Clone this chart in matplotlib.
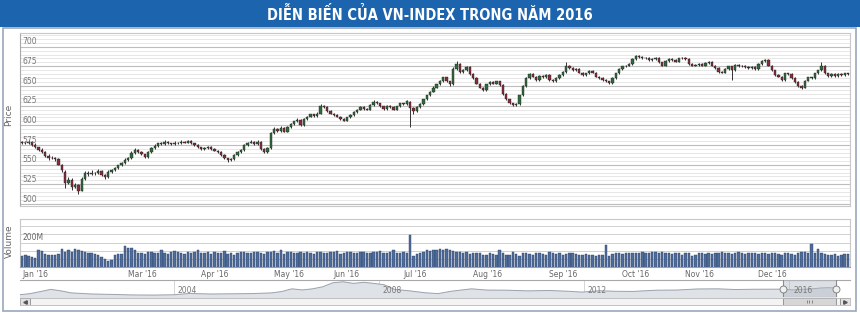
import numpy as np
import matplotlib.pyplot as plt
from matplotlib.patches import Rectangle
from matplotlib.ticker import MultipleLocator
from matplotlib import font_manager

# ---------------- DATA ----------------
title = "DIỄN BIẾN CỦA VN-INDEX TRONG NĂM 2016"

# daily candles of VN-Index 2016
opens = [
    579, 578, 577, 579, 575, 572, 569, 566, 561, 558,
    559, 557, 550, 541, 527, 531, 522, 524, 517, 532,
    540, 538, 540, 539, 542, 537, 534, 541, 543, 546,
    549, 552, 556, 558, 565, 569, 566, 563, 560, 566,
    571, 574, 577, 576, 579, 577, 576, 578, 577, 579,
    578, 580, 577, 575, 572, 570, 571, 573, 570, 568,
    566, 562, 558, 556, 557, 562, 566, 569, 575, 578,
    579, 576, 579, 570, 566, 571, 590, 596, 593, 597,
    592, 598, 602, 605, 607, 600, 608, 611, 614, 612,
    615, 625, 623, 618, 615, 613, 611, 608, 606, 610,
    613, 617, 620, 623, 621, 620, 626, 630, 628, 624,
    621, 625, 623, 620, 624, 628, 627, 630, 622, 618,
    623, 627, 633, 638, 643, 648, 652, 656, 661, 656,
    652, 672, 678, 668, 670, 674, 665, 660, 653, 648,
    645, 652, 655, 653, 656, 651, 640, 633, 628, 626,
    627, 638, 650, 660, 665, 662, 658, 663, 661, 664,
    658, 656, 660, 664, 668, 676, 673, 670, 672, 667,
    664, 666, 669, 667, 662, 660, 658, 656, 654, 660,
    666, 672, 675, 676, 678, 684, 688, 687, 685, 686,
    683, 684, 686, 680, 676, 682, 684, 683, 681, 685,
    686, 684, 678, 676, 677, 678, 676, 679, 681, 676,
    673, 668, 667, 672, 675, 670, 677, 675, 676, 674,
    673, 674, 672, 678, 682, 683, 676, 670, 664, 662,
    658, 666, 665, 660, 655, 650, 648, 657, 661, 660,
    666, 670, 676, 666, 663, 665, 663, 665, 664, 666,
]
highs = [
    580, 580, 581, 580, 577, 573, 571, 567, 563, 561,
    560, 558, 551, 543, 534, 533, 527, 525, 534, 542,
    542, 543, 541, 544, 543, 538, 543, 545, 547, 550,
    553, 558, 560, 567, 571, 570, 567, 564, 568, 572,
    576, 578, 579, 581, 580, 578, 580, 579, 581, 580,
    582, 581, 578, 576, 573, 573, 574, 574, 571, 569,
    567, 563, 559, 559, 563, 567, 570, 576, 579, 581,
    580, 581, 580, 571, 572, 591, 598, 597, 599, 598,
    599, 603, 606, 609, 608, 609, 612, 615, 615, 617,
    627, 626, 624, 619, 616, 614, 612, 609, 611, 614,
    618, 621, 624, 624, 622, 627, 632, 631, 629, 625,
    626, 626, 624, 625, 629, 629, 632, 631, 623, 624,
    628, 634, 639, 644, 650, 653, 658, 662, 662, 657,
    674, 682, 679, 672, 676, 675, 666, 661, 654, 649,
    653, 656, 656, 657, 657, 652, 641, 634, 629, 628,
    639, 651, 661, 666, 666, 663, 664, 664, 665, 665,
    659, 661, 665, 669, 680, 677, 674, 673, 673, 668,
    667, 670, 670, 668, 663, 661, 659, 657, 661, 667,
    673, 676, 677, 679, 685, 690, 689, 688, 687, 687,
    685, 687, 687, 681, 683, 685, 685, 684, 686, 687,
    687, 685, 679, 678, 679, 679, 680, 682, 682, 677,
    674, 669, 673, 676, 676, 678, 678, 677, 677, 675,
    675, 675, 679, 683, 684, 684, 677, 671, 665, 663,
    667, 667, 666, 661, 656, 651, 658, 662, 662, 667,
    671, 680, 677, 667, 666, 666, 666, 666, 667, 667,
]
lows = [
    576, 576, 576, 574, 571, 568, 565, 560, 556, 557,
    555, 549, 541, 520, 525, 518, 520, 513, 516, 531,
    536, 537, 537, 538, 535, 532, 533, 540, 542, 545,
    548, 551, 555, 557, 564, 565, 562, 559, 559, 565,
    570, 573, 575, 575, 576, 575, 575, 576, 576, 577,
    577, 576, 574, 571, 569, 569, 570, 569, 567, 565,
    561, 557, 554, 555, 556, 561, 565, 568, 574, 577,
    575, 575, 569, 565, 565, 570, 589, 592, 592, 591,
    591, 597, 601, 604, 599, 599, 607, 610, 611, 611,
    614, 622, 617, 614, 612, 610, 607, 605, 605, 609,
    612, 616, 619, 620, 619, 619, 625, 627, 623, 620,
    620, 622, 619, 619, 623, 626, 626, 598, 614, 617,
    622, 626, 632, 637, 642, 647, 651, 655, 655, 650,
    651, 671, 667, 667, 669, 664, 659, 652, 647, 644,
    644, 651, 652, 652, 650, 639, 632, 627, 624, 624,
    626, 637, 649, 659, 661, 657, 657, 660, 660, 657,
    655, 655, 659, 663, 667, 672, 669, 669, 666, 663,
    663, 665, 666, 661, 659, 657, 655, 652, 653, 659,
    665, 671, 674, 675, 677, 683, 686, 684, 684, 682,
    682, 683, 679, 675, 675, 681, 682, 680, 680, 684,
    683, 677, 675, 675, 676, 675, 675, 678, 675, 672,
    667, 666, 666, 671, 658, 669, 674, 674, 673, 672,
    672, 671, 671, 677, 681, 675, 669, 663, 661, 657,
    657, 664, 659, 654, 649, 646, 647, 656, 659, 659,
    665, 669, 665, 662, 662, 662, 662, 663, 663, 664,
]
closes = [
    578, 577, 579, 575, 572, 569, 566, 561, 558, 559,
    557, 550, 543, 527, 531, 522, 524, 516, 532, 540,
    538, 540, 539, 542, 537, 534, 541, 543, 546, 549,
    552, 556, 558, 565, 569, 566, 563, 560, 566, 571,
    574, 577, 576, 579, 577, 576, 578, 577, 579, 578,
    580, 577, 575, 572, 570, 571, 573, 570, 568, 566,
    562, 558, 556, 557, 562, 566, 569, 575, 578, 579,
    576, 579, 570, 566, 571, 590, 596, 593, 597, 592,
    598, 602, 605, 607, 600, 608, 611, 614, 612, 615,
    625, 623, 618, 615, 613, 611, 608, 606, 610, 613,
    617, 620, 623, 621, 620, 626, 630, 628, 624, 621,
    625, 623, 620, 624, 628, 627, 631, 622, 618, 623,
    627, 633, 638, 643, 648, 652, 656, 661, 656, 652,
    672, 678, 668, 670, 674, 665, 660, 653, 648, 645,
    652, 655, 653, 656, 651, 640, 633, 628, 626, 627,
    638, 650, 660, 665, 662, 658, 663, 661, 664, 658,
    656, 660, 664, 668, 676, 673, 670, 672, 667, 664,
    666, 669, 667, 662, 660, 658, 656, 654, 660, 666,
    672, 675, 676, 678, 684, 688, 687, 685, 686, 683,
    684, 686, 680, 676, 682, 684, 683, 681, 685, 686,
    684, 678, 676, 677, 678, 676, 679, 681, 676, 673,
    668, 667, 672, 675, 670, 677, 675, 676, 674, 673,
    674, 672, 678, 682, 683, 676, 670, 664, 662, 658,
    666, 665, 660, 655, 650, 648, 657, 661, 660, 666,
    670, 676, 666, 663, 665, 663, 665, 664, 666, 665,
]
# volume, millions of shares
volumes = [
    118, 122, 120, 114, 106, 153, 149, 130, 126, 122,
    126, 130, 161, 142, 153, 145, 161, 157, 149, 145,
    138, 134, 130, 122, 110, 99, 91, 92, 122, 130,
    128, 181, 169, 165, 153, 134, 138, 130, 142, 145,
    134, 138, 153, 138, 130, 142, 149, 145, 134, 130,
    145, 138, 142, 153, 134, 138, 145, 130, 142, 134,
    138, 149, 130, 138, 126, 134, 142, 145, 138, 134,
    145, 142, 138, 130, 142, 145, 149, 138, 153, 130,
    145, 142, 138, 134, 142, 138, 142, 134, 130, 142,
    145, 138, 134, 145, 142, 149, 130, 138, 142, 145,
    134, 138, 142, 145, 134, 138, 142, 145, 149, 134,
    138, 142, 153, 138, 134, 142, 136, 245, 118, 130,
    138, 142, 153, 149, 157, 153, 161, 157, 161, 153,
    149, 142, 145, 138, 142, 130, 134, 138, 134, 122,
    126, 138, 130, 122, 157, 138, 126, 122, 142, 130,
    118, 138, 134, 130, 122, 138, 134, 130, 126, 142,
    138, 130, 134, 126, 130, 138, 134, 130, 126, 122,
    130, 126, 122, 118, 122, 126, 187, 118, 130, 138,
    134, 130, 138, 134, 134, 138, 134, 142, 138, 134,
    145, 142, 138, 142, 134, 138, 130, 134, 138, 126,
    134, 138, 118, 122, 138, 134, 130, 134, 130, 138,
    134, 142, 134, 138, 130, 138, 142, 138, 130, 134,
    138, 134, 130, 138, 134, 130, 138, 134, 130, 126,
    134, 138, 130, 126, 134, 142, 145, 138, 192, 134,
    161, 138, 130, 122, 126, 130, 118, 126, 130, 130,
]

price_ticks = [500, 525, 550, 575, 600, 625, 650, 675, 700]
month_labels = ["Jan '16", "Mar '16", "Apr '16", "May '16", "Jun '16", "Jul '16",
                "Aug '16", "Sep '16", "Oct '16", "Nov '16", "Dec '16"]
month_pos = [0, 32, 54, 76, 94, 115, 136, 159, 181, 200, 222]

# navigator: long history of the index
nav_year = [2001.0, 2001.2, 2001.4, 2001.6, 2001.8, 2002.0, 2002.4, 2002.8, 2003.2, 2003.6,
            2004.0, 2004.3, 2004.7, 2005.0, 2005.5, 2005.9, 2006.1, 2006.3, 2006.5, 2006.7,
            2006.9, 2007.1, 2007.3, 2007.5, 2007.7, 2007.9, 2008.1, 2008.3, 2008.6, 2008.9,
            2009.15, 2009.4, 2009.8, 2010.1, 2010.5, 2010.9, 2011.3, 2011.7, 2011.95, 2012.3,
            2012.6, 2012.95, 2013.4, 2013.8, 2014.2, 2014.6, 2014.95, 2015.3, 2015.7, 2015.88,
            2016.05, 2016.3, 2016.5, 2016.6, 2016.75, 2016.9]
nav_val = [170, 250, 400, 560, 450, 300, 220, 190, 150, 140,
           165, 260, 220, 230, 250, 300, 400, 600, 520, 600,
           750, 1050, 1120, 1000, 1080, 1000, 900, 560, 450, 310,
           250, 420, 600, 510, 500, 450, 480, 420, 360, 460,
           420, 410, 500, 510, 590, 600, 550, 570, 575, 578,
           525, 570, 620, 660, 685, 665]
nav_years_lbl = [2004, 2008, 2012, 2016]
sel_start, sel_end = 2015.88, 2016.9

# ---------------- FIGURE ----------------
W, H = 860, 313
fig = plt.figure(figsize=(W / 100, H / 100), dpi=100)
fig.patch.set_facecolor('white')


def box(x0, y0, x1, y1):
    # pixel box (top-left origin) -> figure fraction
    return [x0 / W, 1 - y1 / H, (x1 - x0) / W, (y1 - y0) / H]


# pick a condensed face if one is installed
names = {f.name for f in font_manager.fontManager.ttflist}
cond = [n for n in ('Liberation Sans Narrow', 'DejaVu Sans Condensed', 'Arial Narrow') if n in names]
narrow = cond + ['DejaVu Sans']
title_size = 12.5 if cond else 10.5

# title bar
ax_t = fig.add_axes(box(0, 0, 860, 27))
ax_t.axis('off')
ax_t.add_patch(Rectangle((0, 0), 1, 1, color='#1c64ae', transform=ax_t.transAxes))
ax_t.text(0.5, 0.48, title, ha='center', va='center', color='white',
          fontsize=title_size, fontweight='bold', family=narrow, fontstretch='condensed')

# outer frame
fig.add_artist(Rectangle((3 / W, 2 / H), 853 / W, 283 / H, transform=fig.transFigure,
                         fill=False, ec='#98a8be', lw=1.2))

o = np.array(opens, float)
h = np.array(highs, float)
l = np.array(lows, float)
c = np.array(closes, float)
idx = np.arange(len(c))
up = c >= o
cols = np.where(up, '#2f6b3b', '#8a2c3c')

# ---- price panel ----
ax_p = fig.add_axes(box(20, 33, 850, 206))
ax_p.set_xlim(-0.6, len(c) - 0.4)
ax_p.set_ylim(497.5, 717.4)
ax_p.set_yticks(price_ticks)
ax_p.yaxis.set_minor_locator(MultipleLocator(5))
ax_p.grid(axis='y', which='major', color='#bdbdbd', lw=0.8)
ax_p.grid(axis='y', which='minor', color='#e3e3e3', lw=0.6)
ax_p.set_axisbelow(True)
ax_p.tick_params(which='both', length=0, labelleft=False, labelbottom=False)
for s in ax_p.spines.values():
    s.set_color('#c8c8c8')
    s.set_linewidth(0.8)
ax_p.spines['left'].set_color('#a8a8a8')

ax_p.vlines(idx, l, h, color='#333333', lw=0.7, zorder=2)
ax_p.bar(idx, np.maximum(np.abs(c - o), 0.8), bottom=np.minimum(o, c), width=0.7,
         color=cols, edgecolor='#222222', linewidth=0.3, zorder=3)

for v in price_ticks:
    ax_p.text(0.003, v + 0.5, str(v), transform=ax_p.get_yaxis_transform(),
              fontsize=5.5, color='#777777', va='bottom', ha='left')
fig.text(9 / W, 1 - 115 / H, 'Price', rotation=90, fontsize=6.5, color='#666666',
         ha='center', va='center', family=narrow)

# ---- volume panel ----
ax_v = fig.add_axes(box(20, 219, 850, 267), sharex=ax_p)
ax_v.bar(idx, volumes, width=0.72, color='#4f6d99', edgecolor='#2c4167', linewidth=0.3, zorder=3)
ax_v.set_ylim(52, 342)
ax_v.set_yticks(range(100, 341, 50))
ax_v.grid(axis='y', color='#d0d0d0', lw=0.7)
ax_v.set_axisbelow(True)
ax_v.tick_params(axis='y', length=0, labelleft=False)
for s in ax_v.spines.values():
    s.set_color('#c8c8c8')
    s.set_linewidth(0.8)
ax_v.spines['bottom'].set_color('#a0a0a0')
ax_v.set_xticks(month_pos)
ax_v.set_xticklabels(month_labels, ha='left', fontsize=5.5, color='#666666')
ax_v.tick_params(axis='x', length=0, pad=2.5)
ax_v.text(0.003, 201, '200M', transform=ax_v.get_yaxis_transform(),
          fontsize=5.5, color='#666666', va='bottom', ha='left')
fig.text(9 / W, 1 - 241 / H, 'Volume', rotation=90, fontsize=6.5, color='#666666',
         ha='center', va='center', family=narrow)

# ---- navigator ----
ax_n = fig.add_axes(box(20, 280, 850, 297))
ax_n.set_xlim(2001.0, 2017.18)
ax_n.set_ylim(0, 1250)
ax_n.fill_between(nav_year, nav_val, color='#dfe3e8', zorder=2)
ax_n.plot(nav_year, nav_val, color='#9aa3ae', lw=0.7, zorder=3)
ax_n.axvspan(sel_start, sel_end, color='#b3b9c3', alpha=0.45, zorder=4)
for yr in nav_years_lbl:
    ax_n.axvline(yr, color='#cfcfcf', lw=0.6, zorder=1)
    ax_n.text(yr + 0.07, 120, str(yr), fontsize=5.5, color='#777777', va='bottom', zorder=5)
for xs in (sel_start, sel_end):
    ax_n.axvline(xs, color='#8a8a8a', lw=0.7, zorder=5)
    ax_n.plot([xs], [625], marker='o', ms=5, mfc='#f0f0f0', mec='#777777', mew=0.6, zorder=6)
ax_n.set_xticks([])
ax_n.set_yticks([])
for s in ax_n.spines.values():
    s.set_visible(False)
ax_n.spines['top'].set_visible(True)
ax_n.spines['top'].set_color('#a8a8a8')

# ---- scrollbar ----
ax_s = fig.add_axes(box(20, 298, 850, 305), sharex=ax_n)
ax_s.set_ylim(0, 1)
ax_s.set_facecolor('#f3f3f3')
for s in ax_s.spines.values():
    s.set_color('#b8b8b8')
    s.set_linewidth(0.6)
ax_s.tick_params(length=0, labelleft=False, labelbottom=False)
ax_s.add_patch(Rectangle((2001.0, 0), 0.2, 1, fc='#e2e2e2', ec='#8a8a8a', lw=0.6))
ax_s.add_patch(Rectangle((2016.98, 0), 0.2, 1, fc='#e2e2e2', ec='#8a8a8a', lw=0.6))
ax_s.plot([2001.1], [0.5], marker='<', ms=2.5, color='#555555')
ax_s.plot([2017.08], [0.5], marker='>', ms=2.5, color='#555555')
ax_s.add_patch(Rectangle((sel_start, 0.05), sel_end - sel_start, 0.9,
                         fc='#d6d6d6', ec='#8a8a8a', lw=0.6))
mid = (sel_start + sel_end) / 2
ax_s.vlines([mid - 0.05, mid, mid + 0.05], 0.3, 0.7, color='#666666', lw=0.5)

fig.savefig('out.png', dpi=100)
